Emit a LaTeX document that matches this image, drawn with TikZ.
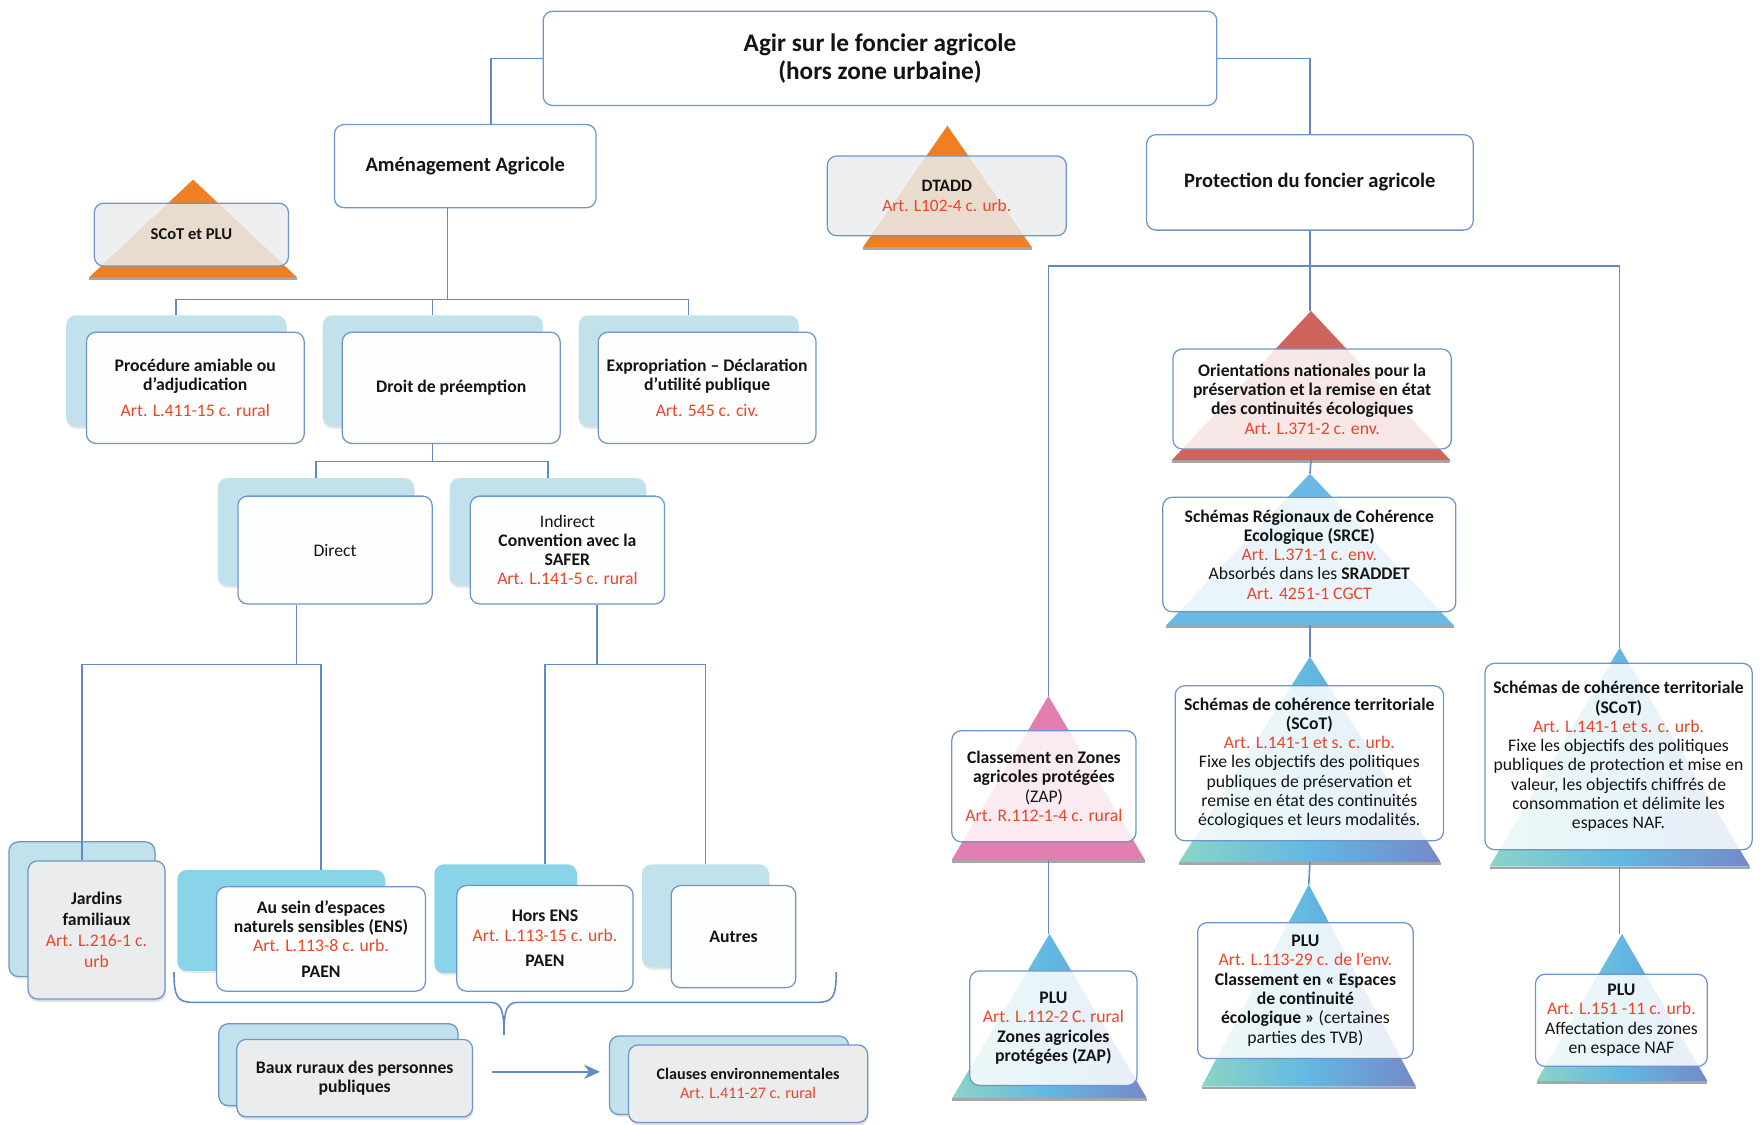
\documentclass[tikz,border=0pt]{standalone}
\usepackage{fontspec}
\setmainfont{Carlito}
\usetikzlibrary{arrows.meta,shadows,positioning}

\definecolor{lineblue}{RGB}{110,150,205}
\definecolor{connblue}{RGB}{98,138,198}
\definecolor{backblue}{RGB}{193,226,234}
\definecolor{deepblue}{RGB}{137,212,232}
\definecolor{frontgray}{RGB}{234,236,238}
\definecolor{artred}{RGB}{238,68,40}
\definecolor{triorange}{RGB}{240,127,34}
\definecolor{trired}{RGB}{206,100,92}
\definecolor{triblue}{RGB}{108,185,232}
\definecolor{tripink}{RGB}{226,126,176}
\definecolor{gradteal}{RGB}{140,212,198}
\definecolor{gradmid}{RGB}{98,184,226}
\definecolor{gradslate}{RGB}{118,136,200}

\newcommand{\art}[1]{{\mdseries\color{artred}#1}}
\newcommand{\rg}[1]{{\mdseries #1}}
% pyramid: name, x, apex y, base y, half width, fill
\newcommand{\pyramid}[6]{%
  \fill[black!35] (#2-#5,#4) rectangle (#2+#5,#4+2.5);
  \path[#6] (#2,#3) -- (#2+#5,#4) -- (#2-#5,#4) -- cycle;
  \coordinate (#1top) at (#2,#3);
  \coordinate (#1bot) at (#2,#4);
}

\tikzset{
  frame/.style={draw=lineblue, line width=0.8pt, rounded corners=6pt, align=center,
    inner sep=1pt, text=black!92, font=\fontsize{11.2}{12.2}\selectfont\bfseries},
  headbox/.style={frame, fill=white, font=\fontsize{13}{16}\selectfont\bfseries},
  backbox/.style={rounded corners=6pt, fill=backblue,
    drop shadow={opacity=0.18, shadow xshift=0.4pt, shadow yshift=-1.4pt}},
  deepbox/.style={backbox, fill=deepblue},
  backline/.style={backbox, draw=lineblue, line width=0.8pt},
  frontbox/.style={frame, fill=white!96!backblue},
  graybox/.style={frame, fill=frontgray,
    drop shadow={opacity=0.25, shadow xshift=0.5pt, shadow yshift=-1.8pt}},
  pyrbox/.style={frame, fill=white, fill opacity=0.85, text opacity=1, draw opacity=1},
  pyrgray/.style={pyrbox, fill=frontgray},
  gradfill/.style={left color=gradteal, right color=gradslate, middle color=gradmid},
  conn/.style={draw=connblue, line width=1pt},
}

\begin{document}
\begin{tikzpicture}[x=0.025cm, y=-0.025cm]
\useasboundingbox (0,0) rectangle (1568,1002);

% top level
\node[headbox, minimum width=15cm, minimum height=2.1cm,
  font=\fontsize{16}{18}\selectfont\bfseries] (top) at (784,52)
  {Agir sur le foncier agricole\\(hors zone urbaine)};
\node[headbox, minimum width=5.825cm, minimum height=1.85cm] (amen) at (414.5,148)
  {Aménagement Agricole};
\node[headbox, minimum width=7.275cm, minimum height=2.125cm] (prot) at (1167,162.5)
  {Protection du foncier agricole};

% SCoT et PLU, DTADD
\pyramid{scotplu}{172}{160}{247}{92.5}{fill=triorange}
\node[pyrgray, minimum width=4.325cm, minimum height=1.4cm,
  font=\fontsize{10.5}{12}\selectfont\bfseries] (scotplu) at (170.5,209) {SCoT et PLU};
\pyramid{dtadd}{844}{112}{220}{75}{fill=triorange}
\node[pyrgray, minimum width=5.325cm, minimum height=1.775cm,
  font=\fontsize{11}{12.5}\selectfont\bfseries] (dtadd) at (843.5,174.5)
  {DTADD\\\art{Art. L102-4 c. urb.}};

% amenagement : second level
\node[backbox, minimum width=4.9cm, minimum height=2.475cm] (procB) at (157,330.5) {};
\node[frontbox, minimum width=4.85cm, minimum height=2.475cm] (proc) at (174,345.5)
  {Procédure amiable ou\\d’adjudication\\[4pt]\art{Art. L.411-15 c. rural}};
\node[backbox, minimum width=4.9cm, minimum height=2.475cm] (droitB) at (385.5,330.5) {};
\node[frontbox, minimum width=4.85cm, minimum height=2.475cm] (droit) at (402,345.5)
  {Droit de préemption};
\node[backbox, minimum width=4.9cm, minimum height=2.475cm] (exprB) at (613.5,330.5) {};
\node[frontbox, minimum width=4.85cm, minimum height=2.475cm] (expr) at (630,345.5)
  {Expropriation – Déclaration\\d’utilité publique\\[4pt]\art{Art. 545 c. civ.}};

% preemption
\node[backbox, minimum width=4.375cm, minimum height=2.4cm] (directB) at (281.5,474) {};
\node[frontbox, minimum width=4.325cm, minimum height=2.4cm] (direct) at (298.5,490)
  {\rg{Direct}};
\node[backbox, minimum width=4.375cm, minimum height=2.4cm] (indirB) at (488,474) {};
\node[frontbox, minimum width=4.325cm, minimum height=2.4cm] (indir) at (505.5,490)
  {\rg{Indirect}\\Convention avec la\\SAFER\\\art{Art. L.141-5 c. rural}};

% fourth level
\node[backline, minimum width=3.25cm, minimum height=3cm] (jardB) at (73,810) {};
\node[graybox, minimum width=3.05cm, minimum height=3.075cm,
  font=\fontsize{11.2}{13.3}\selectfont\bfseries] (jard) at (86,828.5)
  {Jardins\\familiaux\\\art{Art. L.216-1 c.}\\\art{urb}};
\node[deepbox, minimum width=4.625cm, minimum height=2.25cm] (ensB) at (250.5,820) {};
\node[frontbox, minimum width=4.65cm, minimum height=2.325cm] (ens) at (286,836.5)
  {Au sein d’espaces\\naturels sensibles (ENS)\\\art{Art. L.113-8 c. urb.}\\[4pt]PAEN};
\node[deepbox, minimum width=3.175cm, minimum height=2.425cm] (horsB) at (450.5,818.5) {};
\node[frontbox, minimum width=3.925cm, minimum height=2.35cm] (hors) at (485.5,836)
  {Hors ENS\\\art{Art. L.113-15 c. urb.}\\[4pt]PAEN};
\node[backbox, minimum width=2.825cm, minimum height=2.3cm] (autB) at (628.5,816) {};
\node[frontbox, minimum width=2.775cm, minimum height=2.275cm] (aut) at (653.5,834.5)
  {Autres};

% baux ruraux
\node[backline, minimum width=5.325cm, minimum height=1.825cm] (bauxB) at (301.5,948.5) {};
\node[graybox, minimum width=5.25cm, minimum height=1.725cm] (baux) at (316,960.5)
  {Baux ruraux des personnes\\publiques};
\node[backline, minimum width=5.325cm, minimum height=1.75cm] (claB) at (649.5,958) {};
\node[graybox, minimum width=5.325cm, minimum height=1.725cm,
  font=\fontsize{10.2}{12}\selectfont\bfseries] (cla) at (666.5,965.5)
  {Clauses environnementales\\\art{Art. L.411-27 c. rural}};

% protection : pyramids
\pyramid{ori}{1168}{277}{410}{124}{fill=trired}
\node[pyrbox, minimum width=6.2cm, minimum height=2.225cm] (ori) at (1169,355.5)
  {Orientations nationales pour la\\préservation et la remise en état\\des continuités écologiques\\\art{Art. L.371-2 c. env.}};
\pyramid{srce}{1167}{422}{557}{128}{fill=triblue}
\node[pyrbox, minimum width=6.525cm, minimum height=2.55cm] (srce) at (1166.5,494)
  {Schémas Régionaux de Cohérence\\Ecologique (SRCE)\\\art{Art. L.371-1 c. env.}\\\rg{Absorbés dans les} SRADDET\\\art{Art. 4251-1 CGCT}};
\pyramid{scotm}{1167}{585}{768}{116.5}{gradfill}
\node[pyrbox, minimum width=5.975cm, minimum height=3.45cm] (scotm) at (1166.5,680)
  {Schémas de cohérence territoriale\\(SCoT)\\\art{Art. L.141-1 et s. c. urb.}\\\rg{Fixe les objectifs des politiques}\\\rg{publiques de préservation et}\\\rg{remise en état des continuités}\\\rg{écologiques et leurs modalités.}};
\pyramid{scotr}{1443}{577}{772}{116}{gradfill}
\node[pyrbox, minimum width=5.95cm, minimum height=4.15cm] (scotr) at (1442,674)
  {Schémas de cohérence territoriale\\(SCoT)\\\art{Art. L.141-1 et s. c. urb.}\\\rg{Fixe les objectifs des politiques}\\\rg{publiques de protection et mise en}\\\rg{valeur, les objectifs chiffrés de}\\\rg{consommation et délimite les}\\\rg{espaces NAF.}};
\pyramid{zap}{934}{620}{766}{86}{fill=tripink}
\node[pyrbox, minimum width=4.1cm, minimum height=2.475cm] (zap) at (930,700.5)
  {Classement en Zones\\agricoles protégées\\\rg{(ZAP)}\\\art{Art. R.112-1-4 c. rural}};
\pyramid{plua}{935}{832}{978}{86.5}{gradfill}
\node[pyrbox, minimum width=3.725cm, minimum height=2.55cm] (plua) at (938.5,916)
  {PLU\\\art{Art. L.112-2 C. rural}\\Zones agricoles\\protégées (ZAP)};
\pyramid{plub}{1166}{788}{968}{95.5}{gradfill}
\node[pyrbox, minimum width=4.8cm, minimum height=3.025cm] (plub) at (1163,882.5)
  {PLU\\\art{Art. L.113-29 c. de l’env.}\\Classement en « Espaces\\de continuité\\écologique » \rg{(certaines}\\\rg{parties des TVB)}};
\pyramid{pluc}{1445}{832}{963}{76}{gradfill}
\node[pyrbox, minimum width=3.825cm, minimum height=2.05cm] (pluc) at (1444.5,909)
  {PLU\\\art{Art. L.151 -11 c. urb.}\\\rg{Affectation des zones}\\\rg{en espace NAF}};

% connectors
\coordinate (amenIn) at ([xshift=5.75mm]amen.north);
\coordinate (amenOut) at ([xshift=-4mm]amen.south);
\coordinate (busA) at (0,267);
\coordinate (busB) at (0,411);
\coordinate (busC) at (0,592);
\coordinate (busR) at (0,237);
\coordinate (directOut) at ([xshift=-8.6mm]direct.south);
\coordinate (indirOut) at ([xshift=6.6mm]indir.south);
\draw[conn] (top.west) -| (amenIn);
\draw[conn] (top.east) -| (prot.north);
\draw[conn] (amenOut) -- (amenOut |- busA);
\draw[conn] (procB.north) -- (procB.north |- busA) -| (exprB.north);
\draw[conn] (droitB.north) -- (droitB.north |- busA);
\draw[conn] (droitB.north |- droit.south) -- (droitB.north |- busB);
\draw[conn] (directB.north) -- (directB.north |- busB) -| (indirB.north);
\draw[conn] (directOut) -- (directOut |- busC);
\draw[conn] (jardB.north |- jard.north) -- (jardB.north |- busC) -| (ens.north |- ensB.north);
\draw[conn] (indirOut) -- (indirOut |- busC);
\draw[conn] (hors.north |- horsB.north) -- (hors.north |- busC) -| (autB.north);
\draw[conn] (155,866) .. controls (155,888) and (158,893) .. (172,893) -- (436,893)
  .. controls (446,893) and (449,898) .. (449,922)
  .. controls (449,898) and (452,893) .. (462,893) -- (728,893)
  .. controls (742,893) and (745,888) .. (745,866);
\coordinate (arrS) at ([xshift=4.25mm,yshift=1.4mm]baux.east);
\draw[conn, -{Stealth[length=3.5mm,width=3.2mm]}, shorten >=2mm] (arrS) -- (arrS -| claB.west);

\draw[conn] (prot.south) -- (prot.south |- oritop);
\draw[conn] (zaptop) -- (zaptop |- busR) -| (scotrtop);
\draw[conn] (oribot) -- (srcetop);
\draw[conn] (srcebot) -- (scotmtop);
\draw[conn] (scotmbot) -- (plubtop);
\draw[conn] (zapbot) -- (zapbot |- pluatop);
\draw[conn] (scotrbot) -- (scotrbot |- pluctop);

\end{tikzpicture}
\end{document}
